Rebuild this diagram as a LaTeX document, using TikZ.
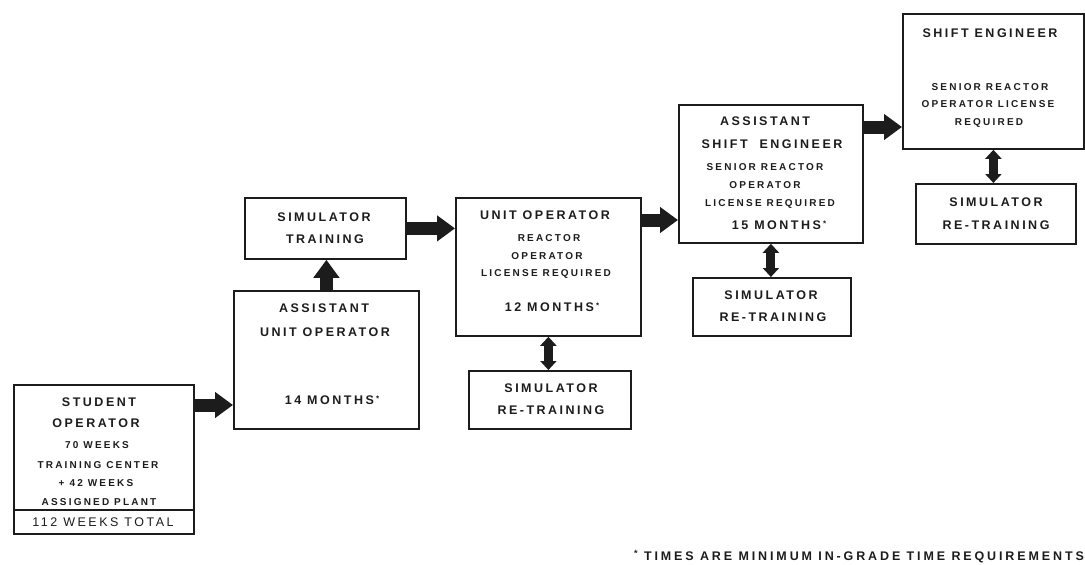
\documentclass[tikz,border=0pt]{standalone}
\usepackage{fontspec}
\setmainfont{Liberation Sans}
\newfontfamily\labfont{Liberation Sans}[LetterSpace=20]
\newfontfamily\smlfont{Liberation Sans}[LetterSpace=22]
\newfontfamily\footfont{Liberation Sans}[LetterSpace=23]
\usetikzlibrary{arrows.meta}
\definecolor{ink}{HTML}{1C1C1C}
\newcommand{\astmark}{\,\raisebox{3pt}{\fontsize{8}{8}\selectfont *}}
\begin{document}
\begin{tikzpicture}[x=1pt,y=-1pt,
  box/.style={draw=ink,line width=1.8pt,inner sep=0pt,anchor=north west},
  big/.style={font=\labfont\bfseries\fontsize{12.5}{14}\selectfont,inner sep=0pt,text height=9pt,text depth=0pt,text=ink},
  sml/.style={font=\smlfont\bfseries\fontsize{10}{12}\selectfont,inner sep=0pt,text height=7.2pt,text depth=0pt,text=ink},
  tot/.style={font=\labfont\fontsize{12.5}{14}\selectfont,inner sep=0pt,text height=9pt,text depth=0pt,text=ink},
  foot/.style={font=\footfont\bfseries\fontsize{12.5}{14}\selectfont,inner sep=0pt,text height=9pt,text depth=0pt,text=ink},
  bigarrow/.style={draw=ink,line width=13pt,-{Triangle[length=18pt,width=25pt]}},
  dblarrow/.style={draw=ink,line width=9pt,{Triangle[length=9pt,width=16pt]}-{Triangle[length=9pt,width=16pt]}}]
\useasboundingbox (0,0) rectangle (1085,565);

% boxes
\node[box,minimum width=180pt,minimum height=149pt] (SO) at (13,384) {};
\node[box,minimum width=185pt,minimum height=138pt] (AUO) at (233,290) {};
\node[box,minimum width=161pt,minimum height=61pt] (ST) at (244,197) {};
\node[box,minimum width=185pt,minimum height=138pt] (UO) at (455,197) {};
\node[box,minimum width=162pt,minimum height=58pt] (R1) at (468,370) {};
\node[box,minimum width=184pt,minimum height=138pt] (ASE) at (678,104) {};
\node[box,minimum width=158pt,minimum height=58pt] (R2) at (692,277) {};
\node[box,minimum width=181pt,minimum height=135pt] (SE) at (902,13) {};
\node[box,minimum width=160pt,minimum height=60pt] (R3) at (915,183) {};
\draw[draw=ink,line width=1.8pt] (SO.west |- 0,510) -- (SO.east |- 0,510);

% texts: student operator
\node[big] (so1) at (99,402) {STUDENT};
\node[big] (so2) at (96,423) {OPERATOR};
\node[sml] (so3) at (97,445) {70 WEEKS};
\node[sml] (so4) at (98,465) {TRAINING CENTER};
\node[sml] (so5) at (96,483) {+ 42 WEEKS};
\node[sml] (so6) at (99,502) {ASSIGNED PLANT};
\node[tot] (so7) at (103,522) {112 WEEKS TOTAL};
% assistant unit operator
\node[big] (au1) at (324,308) {ASSISTANT};
\node[big] (au2) at (325,332) {UNIT OPERATOR};
\node[big] (au3) at (332,400) {14 MONTHS\astmark};
% simulator training
\node[big] (st1) at (324,217) {SIMULATOR};
\node[big] (st2) at (325,239) {TRAINING};
% unit operator
\node[big] (uo1) at (545,215) {UNIT OPERATOR};
\node[sml] (uo2) at (549,238) {REACTOR};
\node[sml] (uo3) at (547,256) {OPERATOR};
\node[sml] (uo4) at (546,273) {LICENSE REQUIRED};
\node[big] (uo5) at (552,307) {12 MONTHS\astmark};
% retraining 1
\node[big] (r11) at (551,388) {SIMULATOR};
\node[big] (r12) at (551,410) {RE-TRAINING};
% assistant shift engineer
\node[big] (as1) at (765,121) {ASSISTANT};
\node[big] (as2) at (772,144) {SHIFT\ \ ENGINEER};
\node[sml] (as3) at (765,167) {SENIOR REACTOR};
\node[sml] (as4) at (765,185) {OPERATOR};
\node[sml] (as5) at (770,203) {LICENSE REQUIRED};
\node[big] (as6) at (779,225) {15 MONTHS\astmark};
% retraining 2
\node[big] (r21) at (771,295) {SIMULATOR};
\node[big] (r22) at (773,317) {RE-TRAINING};
% shift engineer
\node[big] (se1) at (990,33) {SHIFT ENGINEER};
\node[sml] (se2) at (990,87) {SENIOR REACTOR};
\node[sml] (se3) at (988,104) {OPERATOR LICENSE};
\node[sml] (se4) at (989,122) {REQUIRED};
% retraining 3
\node[big] (r31) at (996,202) {SIMULATOR};
\node[big] (r32) at (996,225) {RE-TRAINING};
% footnote
\node[foot,anchor=west] (fn) at (634,556) {\raisebox{4pt}{\fontsize{9}{9}\selectfont *}\ TIMES ARE MINIMUM IN-GRADE TIME REQUIREMENTS};

% arrows
\draw[bigarrow] (SO.east |- 0,405) -- (AUO.west |- 0,405);
\draw[bigarrow] (AUO.north) -- (ST.south -| AUO.north);
\draw[bigarrow] (ST.east) -- (UO.west |- ST.east);
\draw[bigarrow] (UO.east |- 0,220) -- (ASE.west |- 0,220);
\draw[bigarrow] (ASE.east |- 0,127) -- (SE.west |- 0,127);
\draw[dblarrow] (UO.south) -- (R1.north -| UO.south);
\draw[dblarrow] (ASE.south) -- (R2.north -| ASE.south);
\draw[dblarrow] (SE.south) -- (R3.north -| SE.south);
\end{tikzpicture}
\end{document}
